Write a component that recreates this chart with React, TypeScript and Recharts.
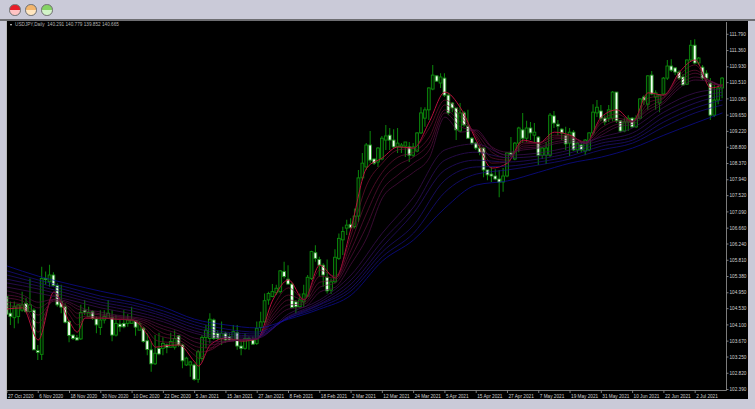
import { Bar, ComposedChart, Line, XAxis, YAxis } from 'recharts';

const opens = [
  104.85, 104.41, 104.29, 104.32, 104.49, 104.67, 104.45, 104.49, 103.42, 103.32,
  105.33, 105.24, 105.42, 105.14, 104.72, 104.58, 104.19, 103.83, 103.76, 103.73,
  104.49, 104.32, 104.45, 104.26, 104.03, 104.23, 104.27, 104.29, 103.83, 104.12,
  104.14, 104.14, 104.14, 104.21, 103.96, 104.01, 103.68, 103.44, 103.07, 103.48,
  103.48, 103.57, 103.51, 103.51, 103.81, 103.57, 103.04, 103.04, 103.04, 102.66,
  103.21, 103.77, 103.74, 104.23, 103.88, 103.74, 103.88, 103.79, 103.7, 103.89,
  103.54, 103.48, 103.7, 103.7, 103.61, 104.03, 104.18, 104.76, 104.85, 104.95,
  104.98, 105.51, 105.31, 105.18, 104.71, 104.58, 104.71, 104.86, 105.33, 106.01,
  105.83, 105.68, 105.36, 105.02, 105.24, 105.86, 106.35, 106.66, 106.76, 106.7,
  106.98, 107.99, 108.28, 108.86, 108.49, 108.41, 108.49, 108.99, 109.12, 108.99,
  108.81, 108.81, 108.83, 108.81, 108.59, 108.7, 109.18, 109.57, 109.79, 110.34,
  110.69, 110.5, 110.63, 110.18, 109.97, 109.84, 109.23, 109.71, 109.36, 109.04,
  108.91, 108.78, 108.78, 108.2, 108.09, 108.04, 107.96, 107.88, 108.04, 108.65,
  108.49, 108.91, 109.26, 109.04, 109.31, 109.12, 109.07, 108.59, 108.59, 108.59,
  109.63, 109.41, 109.28, 109.12, 108.91, 109.2, 108.73, 108.86, 108.7, 108.73,
  109.18, 109.71, 109.76, 109.57, 109.57, 109.57, 110.26, 109.5, 109.23, 109.47,
  109.57, 109.34, 109.57, 110.13, 109.94, 110.71, 110.13, 109.97, 110.21, 110.63,
  110.95, 110.9, 110.79, 110.66, 110.47, 111.11, 111.5, 111.03, 110.92, 110.76,
  110.5, 109.65, 110.05, 110.37,
];
const closes = [
  104.38, 104.32, 104.58, 104.63, 104.63, 104.45, 104.63, 103.44, 103.37, 105.33,
  105.31, 105.42, 105.14, 104.63, 104.57, 104.17, 103.82, 103.74, 103.7, 104.43,
  104.44, 104.43, 104.27, 104.1, 104.23, 104.32, 104.41, 103.83, 104.14, 104.05,
  104.05, 104.23, 104.23, 104.04, 104.14, 103.66, 103.45, 103.07, 103.35, 103.33,
  103.61, 103.51, 103.66, 103.74, 103.57, 103.15, 103.22, 103.12, 102.66, 103.39,
  103.77, 103.96, 104.25, 103.74, 103.74, 103.88, 103.7, 103.7, 103.92, 103.54,
  103.48, 103.74, 103.74, 103.59, 104.01, 104.18, 104.74, 104.93, 104.98, 105.07,
  105.53, 105.38, 105.18, 104.56, 104.58, 104.76, 104.92, 105.36, 106.04, 105.86,
  105.68, 105.42, 105.0, 105.24, 105.89, 106.39, 106.57, 106.74, 106.67, 106.98,
  107.99, 108.38, 108.86, 108.46, 108.38, 108.78, 109.04, 109.1, 108.99, 108.81,
  108.91, 108.86, 108.94, 108.59, 108.81, 109.18, 109.71, 109.79, 110.37, 110.71,
  110.55, 110.66, 110.18, 109.71, 109.84, 109.26, 109.71, 109.39, 109.04, 108.91,
  108.78, 108.67, 108.2, 108.07, 108.04, 107.96, 107.88, 108.04, 108.65, 108.6,
  108.91, 109.31, 109.04, 109.31, 109.18, 109.2, 108.59, 108.78, 108.78, 109.65,
  109.44, 109.36, 109.18, 108.89, 109.2, 108.73, 108.91, 108.73, 108.99, 109.18,
  109.73, 109.86, 109.57, 109.47, 109.79, 110.26, 109.5, 109.23, 109.47, 109.57,
  109.34, 109.57, 110.08, 110.05, 110.69, 110.21, 110.24, 110.18, 110.63, 110.95,
  110.84, 110.79, 110.63, 110.45, 111.11, 111.5, 111.03, 111.16, 110.63, 110.63,
  109.65, 110.05, 110.37, 110.63,
];
const highs = [
  104.89, 104.72, 104.72, 104.64, 104.98, 104.82, 105.33, 104.54, 103.57, 105.64,
  105.51, 105.69, 105.49, 105.2, 105.16, 104.67, 104.23, 103.85, 103.83, 104.63,
  104.76, 104.58, 104.49, 104.32, 104.49, 104.49, 104.76, 104.49, 104.36, 104.23,
  104.49, 104.38, 104.58, 104.23, 104.19, 104.05, 103.88, 103.66, 103.83, 103.89,
  103.77, 103.61, 103.89, 103.95, 103.83, 103.61, 103.26, 103.15, 103.08, 103.44,
  103.83, 104.1, 104.41, 104.27, 103.96, 104.19, 103.92, 103.88, 104.1, 104.1,
  103.66, 103.88, 103.79, 103.79, 104.19, 104.45, 104.93, 104.98, 105.18, 105.16,
  105.55, 105.77, 105.68, 105.22, 104.76, 104.93, 105.16, 105.42, 106.06, 106.21,
  105.9, 105.73, 105.83, 105.33, 106.1, 106.52, 106.7, 106.88, 106.92, 107.18,
  108.2, 108.65, 108.91, 109.23, 108.51, 108.81, 109.1, 109.39, 109.31, 109.28,
  109.31, 108.91, 108.94, 108.94, 108.91, 109.2, 109.86, 109.86, 110.39, 110.98,
  110.71, 110.76, 110.76, 110.24, 110.0, 109.84, 109.97, 109.76, 109.79, 109.07,
  108.94, 108.86, 108.81, 108.2, 108.28, 108.22, 108.2, 108.25, 108.67, 109.07,
  108.94, 109.34, 109.71, 109.5, 109.47, 109.44, 109.1, 108.81, 108.94, 109.71,
  109.76, 109.52, 109.31, 109.34, 109.31, 109.26, 108.94, 108.94, 109.02, 109.2,
  109.94, 110.05, 109.92, 109.65, 109.92, 110.29, 110.26, 109.52, 109.57, 109.65,
  109.6, 109.65, 110.1, 110.18, 110.71, 110.82, 110.31, 110.21, 110.66, 111.11,
  111.13, 110.92, 110.84, 110.74, 111.13, 111.64, 111.66, 111.19, 110.98, 110.84,
  110.63, 110.45, 110.45, 110.66,
];
const lows = [
  104.38, 104.1, 104.01, 104.14, 104.45, 104.43, 104.45, 103.44, 103.17, 103.17,
  105.16, 105.11, 105.11, 104.58, 104.41, 104.14, 103.64, 103.7, 103.69, 103.7,
  104.36, 104.32, 104.23, 103.88, 103.83, 104.14, 104.27, 103.67, 103.79, 103.92,
  104.01, 104.05, 104.14, 103.81, 103.96, 103.63, 103.3, 102.86, 103.04, 103.3,
  103.3, 103.35, 103.51, 103.45, 103.52, 102.95, 103.01, 102.73, 102.62, 102.57,
  103.13, 103.48, 103.61, 103.7, 103.7, 103.57, 103.63, 103.66, 103.66, 103.44,
  103.3, 103.44, 103.44, 103.57, 103.57, 103.92, 104.14, 104.63, 104.83, 104.89,
  104.93, 105.33, 105.16, 104.54, 104.4, 104.56, 104.58, 104.85, 105.29, 105.77,
  105.38, 105.11, 104.93, 104.92, 105.2, 105.82, 105.95, 106.48, 106.65, 106.65,
  106.82, 107.93, 108.2, 108.38, 108.33, 108.28, 108.46, 108.73, 108.73, 108.78,
  108.65, 108.65, 108.54, 108.41, 108.54, 108.67, 109.15, 109.34, 109.52, 110.31,
  110.53, 110.37, 110.13, 109.65, 109.73, 108.99, 109.2, 109.34, 109.02, 108.86,
  108.73, 108.59, 108.01, 107.93, 107.88, 107.93, 107.48, 107.62, 108.01, 108.54,
  108.46, 108.67, 108.91, 108.94, 108.99, 108.94, 108.33, 108.49, 108.36, 108.54,
  109.31, 109.12, 108.99, 108.73, 108.57, 108.7, 108.65, 108.67, 108.59, 108.7,
  109.12, 109.6, 109.49, 109.39, 109.47, 109.49, 109.44, 109.2, 109.2, 109.23,
  109.31, 109.31, 109.57, 109.92, 109.79, 110.18, 109.79, 109.73, 110.18, 110.58,
  110.79, 110.71, 110.58, 110.42, 110.45, 111.06, 111.0, 110.98, 110.58, 110.53,
  109.52, 109.6, 109.94, 110.1,
];

const fastBars = [0, 4, 8, 12, 16, 18, 20, 24, 28, 32, 36, 38, 40, 44, 48, 49, 52, 56, 60, 64, 68, 72, 76, 80, 84, 88, 92, 96, 100, 104, 108, 112, 116, 120, 124, 128, 132, 136, 140, 144, 148, 152, 156, 160, 164, 168, 172, 176, 180, 183];
const slowBars = [0, 8, 16, 24, 32, 40, 48, 56, 64, 72, 80, 88, 96, 104, 112, 120, 128, 136, 144, 152, 160, 168, 176, 183];

const ma1 = [104.52, 104.55, 103.7, 104.97, 104.18, 103.91, 104.28, 104.28, 104.25, 104.23, 103.83, 103.51, 103.54, 103.57, 103.12, 103.01, 103.57, 103.75, 103.67, 103.73, 104.76, 105.29, 104.76, 105.68, 105.34, 106.66, 108.25, 108.52, 108.81, 108.78, 109.47, 110.26, 109.84, 108.99, 108.25, 108.38, 108.99, 108.91, 109.2, 109.12, 108.91, 109.6, 109.79, 109.47, 110.24, 110.18, 110.79, 111.11, 110.37, 110.45];
const ma2 = [104.6, 104.6, 103.91, 104.89, 104.36, 104.1, 104.28, 104.28, 104.25, 104.23, 103.94, 103.7, 103.65, 103.62, 103.3, 103.22, 103.46, 103.73, 103.7, 103.73, 104.57, 105.08, 104.78, 105.55, 105.39, 106.48, 107.8, 108.38, 108.73, 108.78, 109.31, 110.05, 109.71, 109.07, 108.38, 108.41, 108.94, 108.91, 109.12, 109.1, 108.91, 109.52, 109.68, 109.49, 110.1, 110.18, 110.71, 110.98, 110.47, 110.45];
const ma3 = [104.7, 104.65, 104.15, 104.78, 104.5, 104.28, 104.33, 104.31, 104.28, 104.23, 104.04, 103.86, 103.78, 103.7, 103.43, 103.38, 103.43, 103.67, 103.7, 103.73, 104.47, 104.89, 104.76, 105.39, 105.34, 106.29, 107.4, 108.14, 108.54, 108.67, 109.07, 109.92, 109.6, 109.12, 108.52, 108.46, 108.89, 108.91, 109.07, 109.07, 108.94, 109.44, 109.57, 109.49, 109.97, 110.13, 110.63, 110.84, 110.53, 110.42];
const ma4 = [104.81, 104.73, 104.36, 104.73, 104.57, 104.41, 104.41, 104.36, 104.31, 104.25, 104.12, 103.99, 103.88, 103.78, 103.54, 103.51, 103.49, 103.65, 103.7, 103.73, 104.36, 104.76, 104.7, 105.23, 105.29, 106.08, 107.06, 107.93, 108.33, 108.54, 108.91, 109.79, 109.47, 109.18, 108.67, 108.52, 108.83, 108.86, 109.02, 109.04, 108.94, 109.31, 109.49, 109.49, 109.86, 110.1, 110.53, 110.76, 110.55, 110.42];
const ma5 = [104.89, 104.81, 104.55, 104.76, 104.65, 104.52, 104.47, 104.39, 104.33, 104.28, 104.18, 104.07, 103.99, 103.86, 103.65, 103.62, 103.57, 103.65, 103.7, 103.73, 104.28, 104.63, 104.65, 105.1, 105.21, 105.9, 106.72, 107.67, 108.07, 108.38, 108.73, 109.71, 109.34, 109.23, 108.78, 108.59, 108.78, 108.81, 108.94, 108.99, 108.91, 109.2, 109.41, 109.47, 109.79, 110.02, 110.45, 110.66, 110.55, 110.39];
const ma6 = [105.0, 104.89, 104.7, 104.78, 104.7, 104.6, 104.52, 104.44, 104.36, 104.31, 104.23, 104.15, 104.07, 103.94, 103.75, 103.73, 103.65, 103.67, 103.7, 103.73, 104.2, 104.52, 104.57, 104.97, 105.1, 105.71, 106.4, 107.46, 107.85, 108.14, 108.52, 109.6, 109.2, 109.26, 108.81, 108.67, 108.73, 108.78, 108.89, 108.94, 108.91, 109.12, 109.34, 109.41, 109.71, 109.97, 110.37, 110.58, 110.53, 110.39];
const ma7 = [105.1, 104.94, 104.76, 104.55, 104.39, 104.18, 103.88, 103.75, 103.75, 104.39, 104.76, 105.42, 106.53, 107.48, 108.73, 108.89, 108.59, 108.65, 108.81, 109.07, 109.31, 109.86, 110.24, 110.34];
const ma8 = [105.21, 105.05, 104.84, 104.63, 104.47, 104.25, 103.94, 103.79, 103.78, 104.33, 104.7, 105.29, 106.32, 107.22, 108.46, 108.67, 108.52, 108.57, 108.73, 108.99, 109.18, 109.73, 110.1, 110.26];
const ma9 = [105.31, 105.13, 104.92, 104.7, 104.55, 104.33, 104.02, 103.86, 103.81, 104.31, 104.65, 105.18, 106.16, 107.06, 108.2, 108.46, 108.41, 108.49, 108.65, 108.91, 109.07, 109.6, 109.97, 110.18];
const ma10 = [105.42, 105.21, 105.0, 104.78, 104.63, 104.39, 104.1, 103.91, 103.86, 104.28, 104.63, 105.08, 106.03, 106.74, 107.93, 108.28, 108.3, 108.41, 108.57, 108.83, 108.99, 109.47, 109.84, 110.05];
const ma11 = [105.53, 105.29, 105.08, 104.86, 104.7, 104.47, 104.18, 103.99, 103.91, 104.28, 104.57, 105.0, 105.9, 106.53, 107.61, 108.09, 108.2, 108.33, 108.49, 108.73, 108.91, 109.34, 109.71, 109.92];
const ma12 = [105.66, 105.39, 105.18, 104.99, 104.81, 104.57, 104.25, 104.1, 104.02, 104.25, 104.52, 104.89, 105.79, 106.35, 107.19, 107.8, 107.91, 108.14, 108.38, 108.54, 108.78, 109.12, 109.44, 109.71];

const fastLines = [ma1, ma2, ma3, ma4, ma5, ma6];
const slowLines = [ma7, ma8, ma9, ma10, ma11, ma12];
const lineColors = ['#b8103c', '#6e1030', '#681034', '#621038', '#5a103e', '#521046', '#3e1058', '#341066', '#2a1072', '#20107e', '#18108a', '#0e0ea4'];

const priceTicks = [111.79, 111.36, 110.93, 110.51, 110.08, 109.65, 109.22, 108.8, 108.37, 107.94, 107.52, 107.09, 106.66, 106.24, 105.81, 105.38, 104.95, 104.53, 104.1, 103.67, 103.25, 102.82, 102.39];
const dateBars = [0, 8, 16, 24, 32, 40, 48, 56, 64, 72, 80, 88, 96, 104, 112, 120, 128, 136, 144, 152, 160, 168, 176];
const dateLabels = ['27 Oct 2020', '6 Nov 2020', '18 Nov 2020', '30 Nov 2020', '10 Dec 2020', '22 Dec 2020', '5 Jan 2021', '15 Jan 2021', '27 Jan 2021', '8 Feb 2021', '18 Feb 2021', '2 Mar 2021', '12 Mar 2021', '24 Mar 2021', '5 Apr 2021', '15 Apr 2021', '27 Apr 2021', '7 May 2021', '19 May 2021', '31 May 2021', '10 Jun 2021', '22 Jun 2021', '2 Jul 2021'];

const data = opens.map((open, bar) => {
  const row: Record<string, any> = { bar, open, close: closes[bar], high: highs[bar], low: lows[bar], range: [lows[bar], highs[bar]] };
  const f = fastBars.indexOf(bar);
  const s = slowBars.indexOf(bar);
  fastLines.forEach((line, i) => { row[`ma${i + 1}`] = f >= 0 ? line[f] : null; });
  slowLines.forEach((line, i) => { row[`ma${i + 7}`] = s >= 0 ? line[s] : null; });
  return row;
});

const FONT = '"Liberation Sans", sans-serif';
const WINDOW_BG = '#cacad8';

function Candle(props: any) {
  const { x, y, width, height, payload } = props;
  const cx = x + width / 2;
  const toY = (v: number) => y + ((payload.high - v) / (payload.high - payload.low)) * height;
  const up = payload.close >= payload.open;
  const top = toY(Math.max(payload.open, payload.close));
  const bottom = toY(Math.min(payload.open, payload.close));
  return (
    <g>
      <line x1={cx} x2={cx} y1={y} y2={y + height} stroke="#0a7d0a" strokeWidth={1.1} />
      <rect
        x={cx - 1.4}
        y={top}
        width={2.8}
        height={Math.max(bottom - top, 1)}
        fill={up ? '#021a02' : '#f4fff4'}
        stroke={up ? '#0c8c0c' : '#1d8f1d'}
        strokeWidth={0.9}
      />
    </g>
  );
}

function DateTick({ x, y, payload }: any) {
  return (
    <text x={x + 1} y={y + 2.5} fill="#d2d2d2" fontSize={4.7} fontFamily={FONT} textAnchor="start">
      {dateLabels[dateBars.indexOf(payload.value)]}
    </text>
  );
}

function Light({ left, top, bottom }: { left: number; top: string; bottom: string }) {
  return (
    <div
      style={{
        position: 'absolute',
        left,
        top: 4,
        width: 9.5,
        height: 9.5,
        borderRadius: '50%',
        border: '1.2px solid #6f6f6f',
        background: `linear-gradient(${top} 50%, ${bottom} 50%)`,
      }}
    />
  );
}

export default function App() {
  return (
    <div style={{ position: 'fixed', left: 0, top: 0, width: 755, height: 409, overflow: 'hidden', background: WINDOW_BG }}>
      <Light left={9.2} top="#e81c28" bottom="#ffc4c4" />
      <Light left={25.2} top="#f2b56c" bottom="#ffe6c0" />
      <Light left={41.2} top="#84d264" bottom="#d2f4c8" />
      <div style={{ position: 'absolute', left: 7, top: 21, width: 741, height: 378, background: '#000' }} />
      <div style={{ position: 'absolute', left: 0, top: 19, width: 755, height: 2, background: '#6e6e72' }} />
      <ComposedChart
        width={755}
        height={409}
        data={data}
        margin={{ top: 22, right: 0, bottom: 0, left: 5 }}
        barCategoryGap={0}
        style={{ position: 'absolute', left: 0, top: 0 }}
      >
        <XAxis
          dataKey="bar"
          type="category"
          ticks={dateBars}
          interval={0}
          height={18.5}
          padding={{ left: 0, right: 2 }}
          stroke="#9a9a9a"
          strokeWidth={0.8}
          tickSize={2.5}
          tick={DateTick}
        />
        <YAxis
          orientation="right"
          type="number"
          domain={[102.364, 112.115]}
          allowDataOverflow
          ticks={priceTicks}
          interval={0}
          width={28.5}
          stroke="#9a9a9a"
          strokeWidth={0.8}
          tickSize={2}
          tickMargin={1}
          tick={{ fill: '#d2d2d2', fontSize: 4.7, fontFamily: FONT }}
          tickFormatter={(v: number) => v.toFixed(3)}
        />
        <Bar dataKey="range" barSize={3} shape={Candle} isAnimationActive={false} />
        {lineColors.map((color, i) => (
          <Line
            key={color}
            dataKey={`ma${i + 1}`}
            type="monotone"
            stroke={color}
            strokeWidth={i === 0 ? 1 : 0.7}
            dot={false}
            connectNulls
            isAnimationActive={false}
          />
        ))}
      </ComposedChart>
      <div style={{ position: 'absolute', left: 0, top: 21, width: 6, height: 388, background: WINDOW_BG }} />
      <div style={{ position: 'absolute', left: 6, top: 21, width: 1, height: 378, background: '#b8b8b8' }} />
      <div style={{ position: 'absolute', left: 10, top: 24, width: 0, height: 0, borderLeft: '1.5px solid transparent', borderRight: '1.5px solid transparent', borderTop: '2.5px solid #ddd' }} />
      <div style={{ position: 'absolute', left: 15, top: 22, color: '#b4b4b4', fontSize: 4.7, lineHeight: '6px', fontFamily: FONT, whiteSpace: 'pre' }}>
        {'USDJPY,Daily  140.291 140.779 139.852 140.665'}
      </div>
    </div>
  );
}
